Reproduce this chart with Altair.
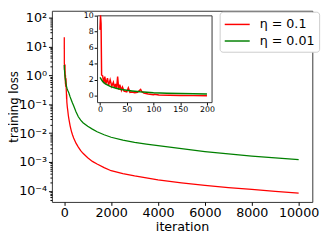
import altair as alt
import pandas as pd

series_names = ["η = 0.1", "η = 0.01"]
series_colors = ["#ff0000", "#008000"]

# early iterations (also drawn in the inset)
red_iter_early = [0, 1, 2, 3, 5, 7, 9, 11, 14, 16, 19, 22, 25, 27, 29, 31, 33, 35, 37, 40, 42,
                  45, 50, 53, 56, 60, 65, 70, 76, 78, 82, 90, 100, 102, 110, 130, 150, 175, 200]
red_loss_early = [8.2, 21.0, 9.0, 2.6, 2.5, 1.6, 2.4, 1.5, 2.2, 1.3, 2.0, 1.2, 1.7, 1.0, 1.5, 0.9, 2.4,
                  0.8, 1.4, 0.7, 1.1, 0.6, 0.5, 1.0, 0.45, 0.5, 0.4, 0.45, 0.8, 0.55, 0.35, 0.25, 0.15,
                  0.22, 0.12, 0.08, 0.06, 0.04, 0.03]
green_iter_early = [0, 5, 10, 20, 30, 40, 50, 60, 75, 100, 125, 150, 175, 200]
green_loss_early = [2.3, 1.8, 1.5, 1.15, 0.95, 0.8, 0.7, 0.62, 0.52, 0.4, 0.34, 0.3, 0.27, 0.24]

# later iterations
late_iter = [250, 300, 350, 400, 500, 600, 700, 800, 1000, 1200, 1400, 1700, 2000, 2500, 3000,
             3500, 4000, 5000, 6000, 7000, 8000, 9000, 10000]
red_loss_late = [0.018, 0.012, 0.0088, 0.0068, 0.0045, 0.0033, 0.0025, 0.002, 0.0014, 0.00105,
                 0.00085, 0.00064, 0.0005, 0.0004, 0.00033, 0.00028, 0.00024, 0.00019, 0.000155,
                 0.00013, 0.000112, 0.000097, 0.000084]
green_loss_late = [0.18, 0.14, 0.11, 0.088, 0.055, 0.037, 0.028, 0.023, 0.0172, 0.0138, 0.0112,
                   0.0088, 0.0072, 0.0057, 0.0048, 0.0042, 0.0037, 0.0029, 0.0023, 0.0019, 0.0016,
                   0.0014, 0.00122]

main_x_ticks = [0, 2000, 4000, 6000, 8000, 10000]
main_y_ticks = [1e-4, 1e-3, 1e-2, 1e-1, 1e0, 1e1, 1e2]
minor_mults = [2, 3, 4, 5, 6, 7, 8, 9]
minor_decades = [1e-5, 1e-4, 1e-3, 1e-2, 1e-1, 1e0, 1e1]
inset_x_ticks = [0, 50, 100, 150, 200]
inset_y_ticks = [0, 2, 4, 6, 8, 10]

rows = []
for it, v in zip(red_iter_early + late_iter, red_loss_early + red_loss_late):
    rows.append({"iteration": it, "loss": v, "series": series_names[0], "k": 0})
for it, v in zip(green_iter_early + late_iter, green_loss_early + green_loss_late):
    rows.append({"iteration": it, "loss": v, "series": series_names[1], "k": 1})
df = pd.DataFrame(rows)
inset_df = df[df["iteration"] <= 200]

W, H = 267, 196
main_xdom = [-528, 10583]
main_ydom = [4.15e-5, 172.4]
in_xdom = [-5.5, 208.6]
in_xrange = [46.3, 163.7]
in_ydom = [-0.77, 10]
in_yrange = [93.7, 4.7]
FRAME = "#333333"
FONT = "DejaVu Sans"

minor_vals = [m * d for d in minor_decades for m in minor_mults
              if main_ydom[0] <= m * d <= main_ydom[1]]

label_expr = ("datum.value > 50 ? '10²' : datum.value > 5 ? '10¹' : datum.value > 0.5 ? '10⁰' : "
              "datum.value > 0.05 ? '10⁻¹' : datum.value > 0.005 ? '10⁻²' : "
              "datum.value > 0.0005 ? '10⁻³' : '10⁻⁴'")

color_scale = alt.Scale(domain=series_names, range=series_colors)

main = alt.Chart(df).mark_line(strokeWidth=1.3).encode(
    x=alt.X("iteration:Q", scale=alt.Scale(domain=main_xdom, nice=False, zero=False),
            axis=alt.Axis(orient="bottom", values=main_x_ticks, format="d", title="iteration",
                          labelFont=FONT, titleFont=FONT,
                          labelFontSize=13, titleFontSize=13, tickSize=3.5, labelPadding=1,
                          titlePadding=2, domain=False, labelFlush=False, titleFontWeight="normal",
                          grid=False, labelColor="black", titleColor="black", tickColor="black")),
    y=alt.Y("loss:Q", scale=alt.Scale(type="log", domain=main_ydom, nice=False),
            axis=alt.Axis(orient="left", values=main_y_ticks, labelExpr=label_expr,
                          title="training loss", labelFont=FONT, titleFont=FONT,
                          labelFontSize=13, titleFontSize=12, tickSize=3.5,
                          labelPadding=2, titleX=-32, titleY=98, domain=False,
                          titleFontWeight="normal",
                          grid=False, labelColor="black", titleColor="black", tickColor="black")),
    color=alt.Color("series:N", scale=color_scale,
                    legend=alt.Legend(title=None, orient="none", legendX=172, legendY=1,
                                      symbolType="M-1.6,0H1.6", symbolSize=256,
                                      symbolStrokeWidth=1.5, symbolOffset=5,
                                      labelFontSize=13, labelFont=FONT, labelColor="black",
                                      labelOffset=14,
                                      strokeColor="#cccccc", fillColor="white", cornerRadius=3,
                                      padding=4, rowPadding=1)),
    order=alt.Order("k:Q"),
)

minor = alt.Chart(df).mark_line(strokeOpacity=0).encode(
    x=alt.X("iteration:Q", scale=alt.Scale(domain=main_xdom, nice=False, zero=False), axis=None),
    y=alt.Y("loss:Q", scale=alt.Scale(type="log", domain=main_ydom, nice=False),
            axis=alt.Axis(orient="left", values=minor_vals, labels=False, tickSize=2,
                          domain=False, title=None, grid=False, tickColor="black")),
    detail="series:N",
)

inset = alt.Chart(inset_df).mark_line(strokeWidth=1.5).encode(
    x=alt.X("iteration:Q", scale=alt.Scale(domain=in_xdom, range=in_xrange, nice=False, zero=False),
            axis=alt.Axis(orient="bottom", offset=-102.3, values=inset_x_ticks, title=None,
                          labelFont=FONT, labelFontSize=8, tickSize=3, labelPadding=1,
                          domainColor=FRAME, labelFlush=False, grid=False,
                          labelColor="black", tickColor="black")),
    y=alt.Y("loss:Q", scale=alt.Scale(domain=in_ydom, range=in_yrange, nice=False, zero=False,
                                      clamp=True),
            axis=alt.Axis(orient="left", offset=-46.3, values=inset_y_ticks, title=None,
                          labelFont=FONT, labelFontSize=8, tickSize=3, labelPadding=1,
                          domainColor=FRAME, grid=False, labelColor="black", tickColor="black")),
    color=alt.Color("series:N", scale=color_scale, legend=None),
    order=alt.Order("k:Q"),
)

inset_frame = alt.Chart(inset_df).mark_line(strokeOpacity=0).encode(
    x=alt.X("iteration:Q", scale=alt.Scale(domain=in_xdom, range=in_xrange, nice=False, zero=False),
            axis=alt.Axis(orient="top", offset=-4.7, labels=False, ticks=False, title=None,
                          domainColor=FRAME, grid=False)),
    y=alt.Y("loss:Q", scale=alt.Scale(domain=in_ydom, range=in_yrange, nice=False, zero=False,
                                      clamp=True),
            axis=alt.Axis(orient="right", offset=-103.3, labels=False, ticks=False, title=None,
                          domainColor=FRAME, grid=False)),
    detail="series:N",
)

chart = alt.layer(main, minor, inset, inset_frame).resolve_scale(
    x="independent", y="independent"
).properties(
    width=W, height=H,
    autosize=alt.AutoSizeParams(type="none"),
    padding={"left": 45, "top": 0, "right": 13, "bottom": 29},
).configure_view(
    stroke=FRAME, strokeWidth=1
)

chart.save("out.html", embed_options={"renderer": "svg", "actions": False})
